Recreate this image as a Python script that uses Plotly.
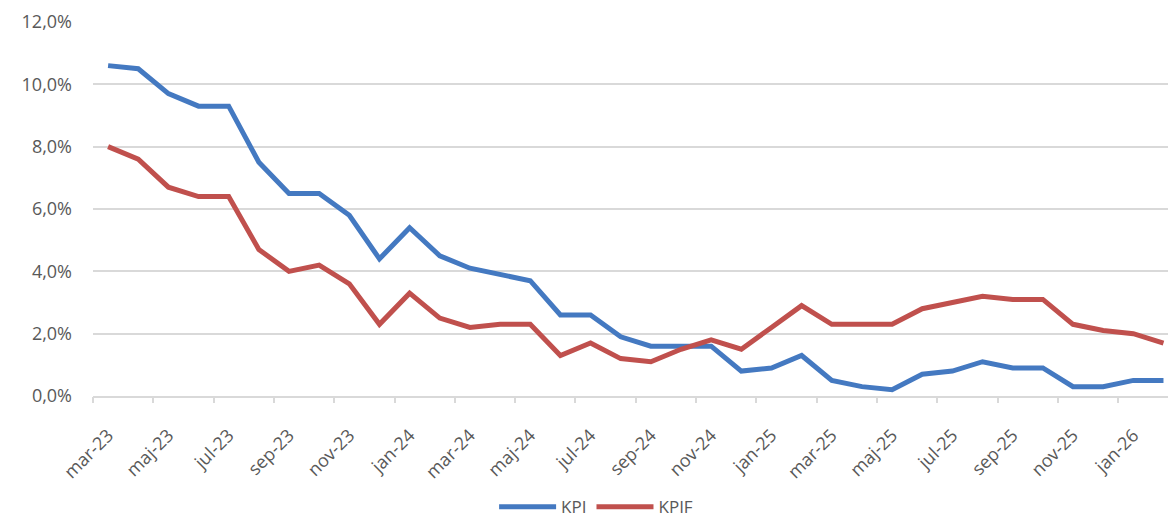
import plotly.graph_objects as go

# Monthly inflation rates (annual % change), March 2023 - February 2026
months = [
    "mar-23", "apr-23", "maj-23", "jun-23", "jul-23", "aug-23", "sep-23", "okt-23", "nov-23", "dec-23",
    "jan-24", "feb-24", "mar-24", "apr-24", "maj-24", "jun-24", "jul-24", "aug-24", "sep-24", "okt-24",
    "nov-24", "dec-24", "jan-25", "feb-25", "mar-25", "apr-25", "maj-25", "jun-25", "jul-25", "aug-25",
    "sep-25", "okt-25", "nov-25", "dec-25", "jan-26", "feb-26",
]
kpi = [
    10.6, 10.5, 9.7, 9.3, 9.3, 7.5, 6.5, 6.5, 5.8, 4.4,
    5.4, 4.5, 4.1, 3.9, 3.7, 2.6, 2.6, 1.9, 1.6, 1.6,
    1.6, 0.8, 0.9, 1.3, 0.5, 0.3, 0.2, 0.7, 0.8, 1.1,
    0.9, 0.9, 0.3, 0.3, 0.5, 0.5,
]
kpif = [
    8.0, 7.6, 6.7, 6.4, 6.4, 4.7, 4.0, 4.2, 3.6, 2.3,
    3.3, 2.5, 2.2, 2.3, 2.3, 1.3, 1.7, 1.2, 1.1, 1.5,
    1.8, 1.5, 2.2, 2.9, 2.3, 2.3, 2.3, 2.8, 3.0, 3.2,
    3.1, 3.1, 2.3, 2.1, 2.0, 1.7,
]
y_ticks = [0, 2, 4, 6, 8, 10, 12]
y_labels = ["0,0%", "2,0%", "4,0%", "6,0%", "8,0%", "10,0%", "12,0%"]

idx = list(range(len(months)))
label_idx = idx[::2]
label_text = [months[i] for i in label_idx]
boundary_idx = [i - 0.5 for i in label_idx]

BLUE = "#4479C1"
RED = "#C0504D"
GREY_TXT = "#595959"
FONT = "Open Sans"

fig = go.Figure()
fig.add_trace(go.Scatter(x=idx, y=kpi, mode="lines", name="KPI",
                         line=dict(color=BLUE, width=5)))
fig.add_trace(go.Scatter(x=idx, y=kpif, mode="lines", name="KPIF",
                         line=dict(color=RED, width=5)))
# invisible trace to carry the tick-mark axis
fig.add_trace(go.Scatter(x=[idx[0]], y=[None], xaxis="x2", showlegend=False,
                         hoverinfo="skip", mode="lines"))

x_range = [-0.5, 35.15]

fig.update_layout(
    width=1168, height=517,
    margin=dict(l=93, r=0, t=22, b=121, autoexpand=False),
    plot_bgcolor="white", paper_bgcolor="white",
    font=dict(family=FONT, color=GREY_TXT),
    showlegend=True,
    legend=dict(orientation="h", x=0.468, xanchor="center", y=-0.297, yanchor="middle",
                font=dict(size=17, color=GREY_TXT, family=FONT), itemwidth=57,
                tracegroupgap=0, traceorder="normal", borderwidth=0),
    xaxis=dict(range=x_range, tickmode="array", tickvals=label_idx, ticktext=label_text,
               tickangle=-45, ticks="", showgrid=False, zeroline=False, automargin=False,
               showline=True, linecolor="#D9D9D9", linewidth=1.5, ticklabelstandoff=20,
               tickfont=dict(size=18, color=GREY_TXT, family=FONT)),
    xaxis2=dict(range=x_range, overlaying="x", side="bottom", tickmode="array",
                tickvals=boundary_idx, ticktext=["" for _ in boundary_idx], automargin=False,
                ticks="outside", ticklen=6, tickcolor="#D9D9D9", tickwidth=1.5,
                showgrid=False, zeroline=False, showline=False),
    yaxis=dict(range=[0, 12], tickmode="array", tickvals=y_ticks, ticktext=y_labels,
               showgrid=True, gridcolor="#D9D9D9", gridwidth=1.5, zeroline=False,
               showline=False, ticks="", ticklabelstandoff=20, automargin=False,
               tickfont=dict(size=18, color=GREY_TXT, family=FONT)),
)

fig.write_html("out.html")
